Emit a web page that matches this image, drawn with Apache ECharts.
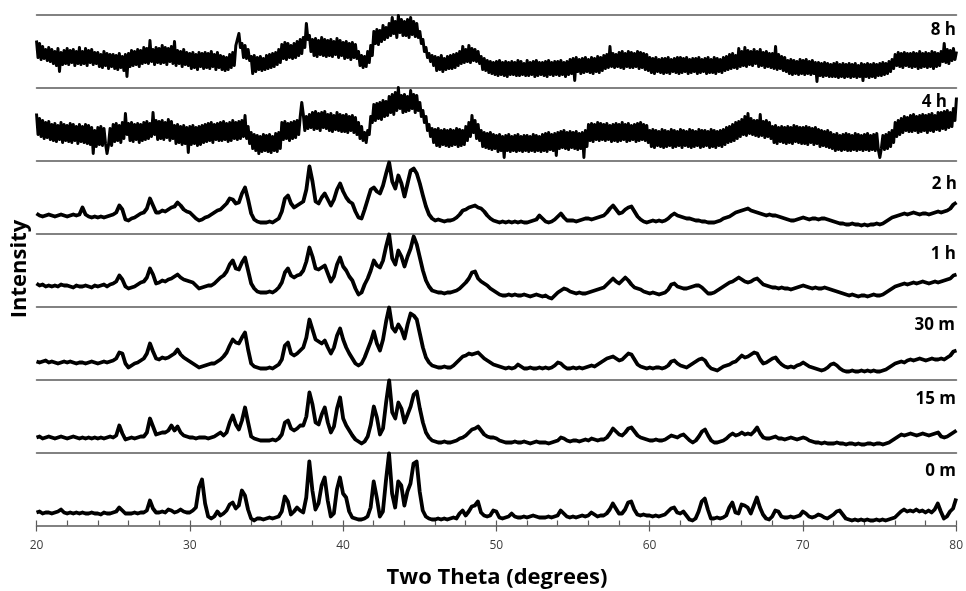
<!DOCTYPE html>
<html>
<head>
<meta charset="utf-8">
<script src="https://cdn.jsdelivr.net/npm/echarts@6/dist/echarts.min.js"></script>
<style>
html,body{margin:0;padding:0;background:#fff;}
#chart{width:966px;height:591px;}
</style>
</head>
<body>
<div id="chart"></div>
<script>
// ---------- DATA ----------
// 8 h and 4 h scans: read every 0.1 degree; other scans: read every 0.2 degree (20 to 80)
const xStart = 20, xEnd = 80;
const xTickLabels = [20, 30, 40, 50, 60, 70, 80];
const panelLabels = ['8 h', '4 h', '2 h', '1 h', '30 m', '15 m', '0 m'];

const s8h = [
47,30,44,28,41,29,38,27,40,26, 38,24,36,22,39,16,35,23,37,24, 39,23,37,25,38,22,36,24,40,23,
36,24,39,22,37,25,38,23,35,24, 35,21,33,20,36,22,34,19,33,21, 33,19,32,18,34,20,31,17,33,11,
34,21,37,22,36,23,38,21,37,24, 40,25,39,24,47,26,38,23,40,25, 39,24,42,25,40,23,39,26,41,24,
46,22,37,24,36,21,38,23,35,22, 34,19,35,20,33,18,35,21,34,19, 35,20,34,19,36,21,33,18,35,20,
32,18,31,17,30,18,33,20,35,22, 42,48,54,40,44,30,42,29,38,27, 31,14,32,16,30,18,31,17,29,18,
32,19,33,20,34,21,35,23,38,25, 43,29,45,28,44,30,42,29,44,30, 46,32,48,34,50,40,64,48,52,36,
48,32,49,31,47,33,50,32,48,31, 47,32,48,31,46,33,49,30,47,32, 45,29,46,30,44,28,45,30,43,29,
36,22,32,20,31,21,36,25,42,32, 56,44,58,43,57,46,62,48,60,50, 64,52,70,54,66,50,72,55,68,52,
66,52,68,50,70,53,66,51,64,50, 56,44,48,36,40,30,34,26,32,22, 31,17,30,18,32,16,29,18,31,19,
32,19,33,20,34,22,36,24,41,25, 38,26,42,25,39,27,38,26,36,24, 31,18,29,17,27,15,26,14,25,13,
26,12,27,13,25,12,26,11,25,13, 26,13,25,12,27,12,26,13,24,12, 27,12,25,13,26,11,27,12,25,13,
25,12,26,11,27,13,25,12,26,13, 26,12,27,13,25,11,26,13,28,14, 29,7,30,16,28,14,29,15,30,16,
28,15,30,14,29,16,31,15,30,17, 32,19,33,20,41,21,34,20,33,21, 35,20,36,19,34,21,36,20,35,20,
34,21,36,19,35,20,34,18,33,17, 30,15,29,14,30,16,28,15,29,14, 29,15,30,14,28,16,29,15,30,14,
30,15,29,16,30,14,28,15,29,16, 29,14,30,15,28,16,29,14,30,15, 28,15,30,14,29,16,28,15,30,17,
31,18,33,19,34,20,32,19,39,21, 36,22,40,21,37,23,36,22,38,24, 36,21,38,22,35,20,36,21,34,20,
34,19,41,18,33,19,31,17,30,16, 27,14,28,13,27,14,26,13,28,14, 27,13,28,14,26,13,27,14,25,6,
25,12,24,11,25,12,24,11,23,11, 24,11,25,10,23,11,24,10,23,11, 24,10,23,11,24,10,22,11,24,7,
23,11,24,10,23,11,24,10,23,12, 24,12,25,13,24,14,26,16,28,19, 33,22,35,21,34,20,35,22,34,21,
34,20,35,21,34,19,36,20,34,21, 35,20,34,21,36,19,35,21,34,22, 36,26,44,25,38,24,37,27,39,28,
36];

const s4h = [
47,26,42,24,40,22,38,23,39,21, 36,20,37,19,35,21,38,18,36,20, 35,19,37,18,36,20,34,17,36,19,
34,18,36,17,35,16,33,7,30,14, 33,16,34,15,32,17,7,16,32,15, 36,19,37,20,35,18,38,22,47,26,
37,20,38,19,36,21,37,18,36,20, 38,21,39,22,37,24,48,26,40,21, 39,22,40,21,38,23,41,20,39,22,
35,17,36,18,34,16,35,17,33,8, 34,16,35,17,33,15,34,16,35,18, 36,19,37,20,38,18,36,21,37,20,
38,20,39,21,37,19,38,20,40,22, 38,21,39,22,40,24,45,22,34,17, 28,12,26,10,25,7,24,9,26,10,
25,9,26,8,24,10,27,9,28,12, 38,21,39,22,37,20,38,22,39,23, 40,26,44,58,46,30,44,32,46,33,
48,31,49,32,47,30,48,33,49,32, 46,30,47,29,45,31,48,30,46,29, 45,29,46,28,44,30,45,28,43,26,
38,22,34,20,28,18,30,26,44,38, 56,40,57,42,58,41,60,44,59,45, 64,48,66,46,68,50,73,52,65,48,
66,49,64,50,70,52,66,48,65,50, 58,44,50,38,44,30,36,24,32,18, 31,15,32,14,30,16,31,15,30,14,
31,15,30,16,32,14,31,15,30,16, 34,20,38,24,45,28,40,22,36,20, 30,14,28,13,27,12,28,11,26,12,
25,9,26,10,24,3,25,10,26,9, 24,10,25,9,26,10,24,9,25,10, 25,9,24,10,26,9,25,10,24,9,
26,10,27,9,28,11,26,10,27,5, 28,12,29,13,30,12,28,11,29,13, 28,12,29,11,27,12,28,3,30,14,
36,20,37,19,36,21,38,20,37,21, 36,20,37,21,35,19,36,20,37,19, 36,20,38,21,36,19,37,20,35,21,
36,19,37,20,38,21,36,20,35,18, 30,14,31,13,30,15,29,14,31,13, 30,14,29,15,31,13,30,14,29,15,
31,13,30,15,29,14,31,13,30,14, 29,15,31,13,30,14,30,15,29,13, 31,14,30,13,29,15,30,14,31,16,
33,18,34,19,36,20,38,22,39,24, 41,26,44,25,47,27,42,26,40,25, 40,24,46,25,39,23,40,24,38,22,
34,18,35,17,33,19,34,18,33,17, 34,18,33,17,35,19,34,18,33,17, 33,17,34,16,33,18,32,16,33,17,
31,14,30,15,29,14,30,13,28,12, 26,10,27,11,25,10,26,11,27,10, 26,10,25,11,27,10,26,11,25,10,
26,11,27,10,25,11,26,10,27,11, 3,12,25,11,26,12,28,14,30,18, 38,24,40,26,42,28,44,30,43,29,
45,29,46,30,44,28,45,29,46,30, 45,28,46,30,47,29,45,31,48,30, 48,32,49,31,50,33,48,34,52,40,
63];

const s2h = [
20,18,17,18,19, 18,17,18,19,18, 17,18,19,18,19, 26,19,17,16,17, 16,17,16,17,18,
19,21,28,24,14, 13,15,16,18,20, 21,25,35,28,21, 21,23,22,24,26, 27,31,28,24,22,
21,18,15,13,14, 16,17,19,21,23, 24,27,30,35,34, 30,31,40,46,34, 20,14,12,11,11,
11,12,11,13,15, 22,35,38,30,26, 28,30,32,44,67, 52,32,30,36,40, 34,28,34,44,50,
42,36,32,30,22, 16,15,24,34,44, 46,42,40,48,60, 71,52,45,58,50, 37,50,63,65,60,
50,38,27,19,15, 13,14,13,12,13, 13,14,16,19,23, 24,26,27,28,26, 25,22,18,15,13,
12,11,12,11,12, 11,12,11,12,11, 11,12,13,14,18, 15,12,11,12,14, 17,20,16,13,13,
13,12,13,14,15, 15,14,15,16,17, 18,21,25,28,24, 20,21,24,26,27, 22,17,14,12,11,
12,13,12,13,12, 13,15,18,20,18, 17,16,15,15,14, 13,13,12,12,11, 11,11,12,13,15,
16,17,19,21,22, 23,24,25,23,22, 21,20,19,18,19, 18,18,17,16,15, 14,13,13,14,15,
16,15,14,15,15, 14,15,15,14,13, 12,11,10,10,9, 9,10,9,9,8, 9,8,9,9,10,
9,10,12,14,16, 17,18,19,20,19, 20,21,20,19,20, 20,19,20,21,22, 21,22,23,25,29,
31];

const s1h = [
23,21,22,20,21, 20,21,20,22,21, 21,20,19,21,20, 20,21,20,19,21, 20,21,22,20,22,
23,25,31,27,20, 18,19,20,22,24, 25,29,38,32,23, 24,26,25,27,28, 30,32,29,27,26,
25,24,21,18,19, 20,21,21,23,26, 29,31,35,42,46, 38,37,44,49,36, 23,18,15,14,14,
14,15,14,16,19, 24,34,38,31,29, 31,32,36,45,59, 50,38,37,39,41, 33,25,30,42,49,
40,36,30,26,18, 12,14,22,28,36, 46,41,39,46,60, 72,48,42,56,50, 40,50,58,70,62,
49,36,26,20,16, 15,14,14,13,14, 14,15,16,18,21, 24,28,34,35,28, 25,23,21,18,16,
14,12,11,11,12, 11,12,11,11,12, 11,10,11,12,11, 10,11,9,8,11, 14,16,18,17,15,
14,13,14,13,13, 14,15,16,17,18, 19,22,25,28,25, 23,26,29,26,22, 19,18,17,15,14,
13,14,13,12,13, 14,17,22,23,20, 19,18,18,19,20, 21,21,19,16,13, 13,14,16,18,20,
22,24,25,27,29, 27,25,24,25,27, 28,25,22,21,20, 19,19,18,19,18, 18,17,18,19,20,
21,20,19,18,19, 18,18,19,18,17, 16,15,14,13,12, 11,12,11,10,11, 11,10,11,12,11,
11,12,14,16,18, 20,21,22,23,22, 23,24,23,24,25, 24,23,24,25,24, 25,26,27,28,31,
32];

const s30m = [
18,17,18,19,17, 18,17,16,17,18, 17,18,17,16,17, 17,16,17,18,17, 16,17,18,17,18,
19,21,27,26,16, 12,14,16,17,19, 21,26,36,28,21, 20,22,21,22,24, 26,30,25,22,20,
18,16,14,12,13, 14,15,16,16,18, 20,23,27,34,40, 37,36,42,47,30, 16,13,12,11,11,
11,12,11,13,15, 20,34,37,26,24, 26,29,32,42,60, 50,40,38,36,39, 32,26,32,44,51,
40,32,26,21,16, 14,16,22,30,38, 48,36,29,40,58, 72,52,48,55,50, 41,55,66,64,60,
46,32,22,17,14, 13,12,12,13,12, 12,14,17,20,23, 24,26,25,26,27, 24,21,19,17,15,
14,13,12,11,12, 11,12,15,13,11, 11,12,11,11,12, 11,12,11,12,14, 17,16,13,11,11,
12,11,12,11,12, 13,14,13,15,17, 19,21,22,23,21, 19,20,23,26,25, 20,15,13,12,11,
12,11,12,12,11, 12,14,18,19,16, 14,13,12,14,16, 18,20,21,19,14, 11,10,9,11,13,
14,15,17,18,21, 24,22,23,25,27, 26,20,16,17,19, 21,22,18,15,13, 12,13,12,14,15,
17,15,13,12,11, 10,9,10,12,15, 16,14,11,9,8, 8,9,8,8,9, 8,9,8,9,8,
8,9,10,12,14, 16,17,18,17,19, 20,19,20,21,20, 19,20,21,20,20, 21,20,22,24,28,
29];

const s15m = [
15,16,14,15,16, 15,14,15,16,15, 14,15,16,15,14, 15,14,15,14,15, 14,15,14,15,16,
15,17,27,19,13, 14,15,14,15,16, 16,20,34,26,18, 19,20,20,22,27, 22,26,20,17,16,
15,15,14,15,15, 15,14,15,16,18, 20,17,20,30,37, 28,23,32,45,30, 16,14,13,12,12,
12,12,13,12,14, 18,30,32,24,22, 24,27,27,36,60, 48,30,28,38,45, 30,20,26,44,55,
34,27,22,17,13, 11,9,11,16,28, 46,35,18,24,50, 72,40,34,50,44, 30,38,46,58,61,
44,30,20,15,12, 11,10,10,11,10, 10,11,12,14,15, 17,20,23,24,26, 22,18,16,15,15,
14,12,11,10,10, 10,11,10,10,11, 10,9,10,11,10, 10,10,9,10,11, 12,15,14,12,11,
12,12,11,12,13, 12,14,13,12,13, 13,15,19,24,21, 18,17,20,24,25, 21,17,15,14,13,
12,12,13,12,12, 13,15,17,16,15, 17,18,15,12,10, 12,16,21,23,17, 12,10,10,11,12,
14,17,19,17,18, 20,18,19,18,21, 25,19,15,14,14, 15,16,14,14,13, 14,15,14,13,14,
15,14,12,11,10, 10,9,10,9,9, 9,10,9,9,8, 9,9,8,9,8, 8,9,9,8,9,
9,8,9,10,12, 14,16,18,17,18, 19,18,17,18,19, 18,17,18,19,20, 16,15,16,18,20,
22];

const s0m = [
13,14,12,13,13, 12,13,14,16,13, 12,13,12,13,12, 13,12,12,13,12, 12,11,13,12,12,
13,14,18,15,12, 12,12,13,12,13, 13,15,25,17,13, 13,14,13,16,15, 13,14,16,14,13,
13,15,18,38,46, 22,9,7,9,14, 10,12,15,21,23, 17,20,35,30,16, 7,5,7,7,6,
7,8,7,8,9, 14,29,24,11,14, 18,15,13,28,64, 35,16,22,40,48, 25,9,12,36,48,
32,28,14,8,7, 6,6,7,9,18, 44,28,9,14,45, 72,32,18,44,40, 20,34,42,62,64,
34,15,9,7,6, 6,7,6,7,6, 7,8,7,12,15, 10,14,19,20,24, 13,10,9,10,15,
14,8,7,8,9, 12,9,8,8,9, 8,9,10,9,8, 8,8,9,8,9, 10,15,12,9,8,
9,8,9,10,9, 10,13,11,9,10, 10,12,16,22,17, 12,12,16,23,24, 16,11,10,11,10,
10,9,10,9,10, 11,14,17,18,13, 12,14,10,6,5, 7,14,24,27,16, 7,7,8,7,8,
10,18,23,13,12, 21,20,18,12,20, 28,18,11,7,6, 9,15,14,9,8, 8,9,8,9,10,
14,12,9,8,9, 11,10,8,7,9, 11,14,15,11,7, 6,5,6,5,6, 5,6,5,5,6,
5,6,5,6,7, 8,11,14,16,14, 15,14,16,14,15, 13,15,13,16,22, 14,7,9,14,17,
27];

const seriesData = [s8h, s4h, s2h, s1h, s30m, s15m, s0m];
const noisyPanels = [true, true, false, false, false, false, false];

// two-theta sampling positions for each scan (evenly spaced over 20..80)
function samplePositions(n) {
  const step = (xEnd - xStart) / (n - 1);
  const out = [];
  for (let i = 0; i < n; i++) out.push(+(xStart + i * step).toFixed(2));
  return out;
}

// ---------- LAYOUT ----------
const plotLeft = 36.5, plotWidth = 920, plotTop = 14.5, panelH = 73;
const lineColor = '#595959';
const labelCenterOffset = [15.5, 14.5, 24, 21, 19, 20, 19];
const labelRight = [956, 947, 957, 956, 955, 956, 956];

const grids = [], xAxes = [], yAxes = [], series = [], graphics = [];
seriesData.forEach((vals, k) => {
  grids.push({ left: plotLeft, width: plotWidth, top: plotTop + panelH * k, height: panelH });
  const isBottom = k === seriesData.length - 1;
  xAxes.push({
    gridIndex: k, type: 'value', min: xStart, max: xEnd, interval: 10, position: 'bottom',
    axisLine: { show: true, onZero: false, lineStyle: { color: lineColor, width: 1.5 } },
    axisTick: { show: isBottom, length: 6, lineStyle: { color: lineColor, width: 1.2 } },
    axisLabel: {
      show: isBottom, margin: 14, fontSize: 12, color: '#3c3c3c', fontFamily: 'Open Sans',
      formatter: v => xTickLabels.includes(v) ? String(v) : ''
    },
    splitLine: { show: false }
  });
  yAxes.push({ gridIndex: k, type: 'value', min: 0, max: panelH, show: false });
  const xs = samplePositions(vals.length);
  series.push({
    type: 'line', xAxisIndex: k, yAxisIndex: k, name: panelLabels[k],
    data: vals.map((v, i) => [xs[i], v]),
    showSymbol: false, symbol: 'none', clip: false, animation: false,
    lineStyle: { color: '#000', width: noisyPanels[k] ? 3 : 3.8, join: 'round' }
  });
  graphics.push({
    type: 'text', x: labelRight[k], y: plotTop + panelH * k + labelCenterOffset[k],
    style: {
      text: panelLabels[k], font: 'bold 17px "Open Sans"', fill: '#000',
      align: 'right', verticalAlign: 'middle', textAlign: 'right', textVerticalAlign: 'middle'
    }
  });
});
// top border line of first panel
xAxes.push({
  gridIndex: 0, type: 'value', min: xStart, max: xEnd, position: 'top',
  axisLine: { show: true, onZero: false, lineStyle: { color: lineColor, width: 1.5 } },
  axisTick: { show: false }, axisLabel: { show: false }, splitLine: { show: false }
});
// minor ticks (every 2 degrees, inside) on the bottom axis
xAxes.push({
  gridIndex: seriesData.length - 1, type: 'value', min: xStart, max: xEnd, interval: 2, position: 'bottom',
  axisLine: { show: false, onZero: false },
  axisTick: { show: true, inside: true, length: 5, lineStyle: { color: lineColor, width: 1.2 } },
  axisLabel: { show: false }, splitLine: { show: false }
});

graphics.push({
  type: 'text', x: 497, y: 578,
  style: {
    text: 'Two Theta (degrees)', font: 'bold 22px "Open Sans"', fill: '#000',
    align: 'center', verticalAlign: 'middle', textAlign: 'center', textVerticalAlign: 'middle'
  }
});
graphics.push({
  type: 'text', x: 20, y: 269, rotation: Math.PI / 2,
  style: {
    text: 'Intensity', font: 'bold 22px "Open Sans"', fill: '#000',
    align: 'center', verticalAlign: 'middle', textAlign: 'center', textVerticalAlign: 'middle'
  }
});

const chart = echarts.init(document.getElementById('chart'), null, { renderer: 'canvas' });
chart.setOption({
  backgroundColor: '#fff',
  animation: false,
  grid: grids,
  xAxis: xAxes,
  yAxis: yAxes,
  series: series,
  graphic: graphics
});
</script>
</body>
</html>
